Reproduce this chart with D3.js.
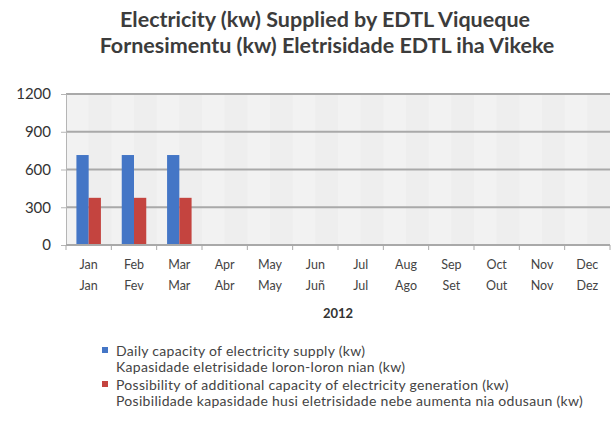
<!DOCTYPE html>
<html>
<head>
<meta charset="utf-8">
<script src="https://cdn.jsdelivr.net/npm/d3@7"></script>
<style>
  body { margin: 0; background: #fff; }
  svg { display: block; font-family: "Lato", "Open Sans", sans-serif; }
</style>
</head>
<body>
<div id="plotSect"></div>
<script>
// chart data //
let monthsEn = ["Jan", "Feb", "Mar", "Apr", "May", "Jun", "Jul", "Aug", "Sep", "Oct", "Nov", "Dec"];
let monthsTet = ["Jan", "Fev", "Mar", "Abr", "May", "Juñ", "Jul", "Ago", "Set", "Out", "Nov", "Dez"];
let dailyCapacity = [715, 715, 715, null, null, null, null, null, null, null, null, null];
let additionalCapacity = [375, 375, 375, null, null, null, null, null, null, null, null, null];
let yTicks = [0, 300, 600, 900, 1200];
let seriesNames = [
    ["Daily capacity of electricity supply (kw)", "Kapasidade eletrisidade loron-loron  nian (kw)"],
    ["Possibility of additional capacity of electricity generation (kw)", "Posibilidade kapasidade husi eletrisidade nebe aumenta nia odusaun (kw)"]
];
let seriesColors = ["#4476c6", "#c4443f"];

// chart setup //
let SVGwidth = 615, SVGheight = 432;
let margin = {top: 94, left: 66, right: 5, bottom: 187};
let width = SVGwidth - margin.left - margin.right,
    height = SVGheight - margin.top - margin.bottom;

let svg = d3.select("#plotSect").append("svg")
    .attr("width", SVGwidth)
    .attr("height", SVGheight);

svg.append("text")
    .attr("x", 325).attr("y", 27)
    .attr("text-anchor", "middle")
    .style("font-weight", "bold").style("font-size", "21.5px").style("fill", "#3c3c3c")
    .text("Electricity (kw) Supplied by EDTL Viqueque");
svg.append("text")
    .attr("x", 327).attr("y", 53)
    .attr("text-anchor", "middle")
    .style("font-weight", "bold").style("font-size", "21.5px").style("fill", "#3c3c3c")
    .text("Fornesimentu (kw) Eletrisidade EDTL iha Vikeke");

let g = svg.append("g")
    .attr("transform", "translate(" + margin.left + "," + margin.top + ")");

let xScale = d3.scaleBand().domain(d3.range(12)).range([0, width]);
let xInner = d3.scaleBand().domain([0, 1]).range([0, xScale.bandwidth()]).paddingOuter(0.85);
let yScale = d3.scaleLinear().domain([0, 1200]).range([height, 0]);

// background with faint stripes
g.append("rect")
    .attr("width", width).attr("height", height)
    .style("fill", "#f2f2f2");
g.selectAll(".stripe")
    .data(d3.range(12))
    .enter().append("rect")
    .attr("x", function(d) { return xScale(d) + xScale.bandwidth() / 2; })
    .attr("width", xScale.bandwidth() / 2)
    .attr("height", height)
    .style("fill", "#eeeeee");

g.selectAll(".grid")
    .data(yTicks.slice(1))
    .enter().append("line")
    .attr("x1", 0).attr("x2", width)
    .attr("y1", function(d) { return yScale(d); })
    .attr("y2", function(d) { return yScale(d); })
    .style("stroke", "#a9a9a9").style("stroke-width", 2);

let yAxis = g.append("g")
    .call(d3.axisLeft(yScale).tickValues(yTicks).tickFormat(d3.format("d")).tickSize(5).tickPadding(10));
yAxis.select(".domain").style("stroke", "#b5b5b5");
yAxis.selectAll(".tick line").style("stroke", "#b5b5b5");
yAxis.selectAll("text").style("font-size", "15px").style("fill", "#333")
    .style("font-family", "Lato, sans-serif");

// bars
let series = [dailyCapacity, additionalCapacity];
series.forEach(function(vals, s) {
    g.selectAll(".bar" + s)
        .data(vals.map(function(v, i) { return {i: i, v: v}; }).filter(function(d) { return d.v != null; }))
        .enter().append("rect")
        .attr("class", "bar" + s)
        .attr("x", function(d) { return xScale(d.i) + xInner(s); })
        .attr("width", xInner.bandwidth())
        .attr("y", function(d) { return yScale(d.v); })
        .attr("height", function(d) { return height - yScale(d.v); })
        .style("fill", seriesColors[s]);
});

// x axis
g.append("line")
    .attr("x1", 0).attr("x2", width)
    .attr("y1", height).attr("y2", height)
    .style("stroke", "#a9a9a9").style("stroke-width", 2);
g.selectAll(".xtick")
    .data(d3.range(13))
    .enter().append("line")
    .attr("x1", function(d) { return d * xScale.step(); })
    .attr("x2", function(d) { return d * xScale.step(); })
    .attr("y1", height).attr("y2", height + 5)
    .style("stroke", "#a9a9a9");

let xLabels = g.selectAll(".xlabel")
    .data(d3.range(12))
    .enter().append("text")
    .attr("text-anchor", "middle")
    .attr("transform", function(d) { return "translate(" + (xScale(d) + xScale.bandwidth() / 2) + "," + (height + 24) + ")"; })
    .style("font-size", "12.5px").style("fill", "#444");
xLabels.append("tspan").attr("x", 0).attr("y", 0).text(function(d) { return monthsEn[d]; });
xLabels.append("tspan").attr("x", 0).attr("y", 21).text(function(d) { return monthsTet[d]; });

g.append("text")
    .attr("x", width / 2).attr("y", height + 73)
    .attr("text-anchor", "middle")
    .style("font-weight", "bold").style("font-size", "13px").style("fill", "#333")
    .text("2012");

// legend
let legend = svg.selectAll(".legend")
    .data(seriesNames)
    .enter().append("g")
    .attr("class", "legend")
    .attr("transform", function(d, i) { return "translate(102," + (356 + i * 34) + ")"; });
legend.append("rect")
    .attr("x", 0).attr("y", -9)
    .attr("width", 6).attr("height", 6)
    .style("fill", function(d, i) { return seriesColors[i]; });
legend.append("text")
    .attr("x", 14).attr("y", 0)
    .style("font-size", "14px").style("letter-spacing", "0.3px").style("fill", "#444")
    .text(function(d) { return d[0]; });
legend.append("text")
    .attr("x", 14).attr("y", 16)
    .style("font-size", "14px").style("letter-spacing", "0.3px").style("fill", "#444")
    .text(function(d) { return d[1]; });
</script>
</body>
</html>
